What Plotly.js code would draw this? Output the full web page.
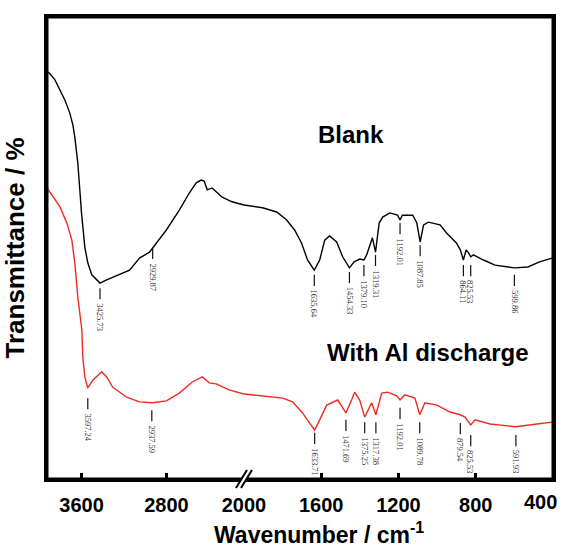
<!DOCTYPE html>
<html><head><meta charset="utf-8">
<script src="https://cdn.plot.ly/plotly-3.0.1.min.js"></script>
<style>html,body{margin:0;padding:0;background:#fff}</style>
</head><body><div id="chart" style="width:561px;height:547px"></div>
<script>
// Blank spectrum (wavenumber cm-1, transmittance arbitrary %)
const blankWavenumber = [3916,3897,3850,3803,3756,3710,3681,3663,3635,3616,3600,3569,3541,3503,3457,3426,3363,3241,3147,3054,2960,2930,2801,2679,2585,2520,2473,2445,2416,2370,2276,2182,2089,2070,
  2000,1904,1831,1780,1738,1702,1671,1636,1608,1582,1557,1520,1489,1454,1430,1400,1379,1365,1335,1319,1300,1282,1245,1205,1192,1180,1126,1105,1088,1070,1045,985,950,900,880,864,850,838,826,812,760,700,600,530,470,405];
const blankT = [88.1,87.7,86.4,84.2,82.0,79.2,76.6,74.0,68.4,62.6,57.6,50.2,46.8,44.2,43.1,42.4,43.1,44.2,45.2,47.8,49.1,50.0,53.9,58.2,61.9,64.1,64.7,64.5,62.6,63.0,61.0,60.0,59.3,59.3,
  59.3,58.7,57.8,56.1,53.9,51.1,47.4,45.2,47.4,51.7,52.6,51.3,48.1,45.7,47.0,47.6,47.4,48.5,52.2,49.1,55.4,56.7,57.6,57.1,56.1,57.1,57.1,55.4,51.3,55.0,55.6,55.0,53.2,51.1,49.6,47.4,49.6,49.0,48.1,48.5,47.4,46.3,45.7,45.9,47.0,47.8];
// With Al discharge spectrum
const alWavenumber = [3925,3897,3803,3738,3691,3663,3635,3597,3588,3569,3541,3494,3410,3363,3307,3176,3054,2932,2801,2679,2557,2463,2398,2332,2211,2070,
  2000,1920,1800,1748,1697,1660,1634,1608,1572,1515,1489,1472,1443,1427,1401,1375,1339,1317,1287,1256,1209,1192,1167,1115,1090,1063,1001,933,880,856,826,804,726,592,483,405];
const alT = [63.0,62.1,58.9,55.4,51.7,46.8,39.4,32.3,26.4,22.1,19.7,21.4,23.2,22.1,19.9,17.7,16.7,16.5,16.9,18.6,21.0,22.1,20.8,20.6,19.3,18.4,
  18.4,18.0,17.5,16.7,14.3,12.1,10.6,12.8,16.0,17.1,15.4,14.3,17.1,18.8,17.1,13.4,16.5,13.9,18.6,18.8,18.0,17.1,18.2,17.5,13.9,16.5,16.0,14.5,13.9,13.4,11.7,12.8,11.9,11.3,11.9,12.3];

// Peak labels
const blankPeakPos = [3426,2930,1636,1454,1379,1319,1192,1088,864,826,600];
const blankPeakText = ['3425.73','2929.87','1635.64','1454.33','1379.10','1319.31','1192.01','1087.85','864.11','825.53','599.86'];
const blankPeakMarkTop = [41.3,50.0,44.2,44.8,46.3,48.5,55.4,50.6,46.3,46.3,44.2];
const alPeakPos = [3541,2938,1634,1472,1375,1317,1192,1090,880,826,592];
const alPeakText = ['3597.24','2937.59','1633.71','1471.69','1375.25','1317.38','1192.01','1089.78','879.54','825.53','591.93'];
const alPeakMarkTop = [17.5,14.9,10.0,12.8,12.3,12.3,15.4,12.3,12.1,9.5,9.5];

const seriesNames = ['Blank','With Al discharge'];
const highTicks = [3600,2800];
const lowTicks = [2000,1600,1200,800];
const lowTickText = ['2000','1600','1200','800'];

const BREAK_HI = 2070, BREAK_LO = 2000;
const MARK_LEN = 2.4;

function split(ws, ts, high){
  const x=[], y=[];
  ws.forEach((w,i)=>{ if(high ? w>=BREAK_HI : w<=BREAK_LO){ x.push(w); y.push(ts[i]); } });
  return {x,y};
}
const traces = [];
[[blankWavenumber,blankT,'#000000'],[alWavenumber,alT,'#ee2a24']].forEach(([ws,ts,c],k)=>{
  [true,false].forEach(high=>{
    const d = split(ws,ts,high);
    traces.push({type:'scatter',mode:'lines',x:d.x,y:d.y,xaxis: high?'x':'x2',yaxis: high?'y':'y2',
      name:seriesNames[k],showlegend:false,line:{color:c,width:1.4},hoverinfo:'skip'});
  });
});
const annotations = [];
[[blankPeakPos,blankPeakText,blankPeakMarkTop],[alPeakPos,alPeakText,alPeakMarkTop]].forEach(([ps,tx,tops])=>{
  [true,false].forEach(high=>{
    const x=[],y=[];
    ps.forEach((p,i)=>{ if((p>BREAK_LO)===high){ x.push(p,p,null); y.push(tops[i],tops[i]-MARK_LEN,null); } });
    traces.push({type:'scatter',mode:'lines',x,y,xaxis: high?'x':'x2',yaxis: high?'y':'y2',showlegend:false,
      line:{color:'#111',width:1.2},hoverinfo:'skip'});
  });
  ps.forEach((p,i)=>{
    const hi = p>BREAK_LO;
    annotations.push({x:p,y:tops[i]-MARK_LEN,xref:hi?'x':'x2',yref:hi?'y':'y2',text:tx[i],showarrow:false,
      textangle:90,xanchor:'center',yanchor:'top',yshift:-2,font:{family:'Liberation Serif, Times New Roman, serif',size:8.5,color:'#333'}});
  });
});
const bold = {family:'Liberation Sans, Arial, sans-serif',weight:'bold',color:'#000'};
annotations.push({x:0.6,y:0.745,xref:'paper',yref:'paper',xanchor:'center',yanchor:'middle',text:'Blank',showarrow:false,font:Object.assign({size:24},bold)});
annotations.push({x:0.753,y:0.273,xref:'paper',yref:'paper',xanchor:'center',yanchor:'middle',text:'With Al discharge',showarrow:false,font:Object.assign({size:24},bold)});
annotations.push({x:400,y:0,xref:'x2',yref:'paper',text:'400',showarrow:false,xanchor:'right',yanchor:'top',xshift:6,yshift:-10,font:Object.assign({size:20},bold)});
annotations.push({x:0.5375,y:0,xref:'paper',yref:'paper',text:'Wavenumber / cm<sup>-1</sup>',showarrow:false,xanchor:'center',yanchor:'top',yshift:-37,font:Object.assign({size:23},bold)});

const axisCommon = {showgrid:false,zeroline:false,showline:true,linecolor:'black',linewidth:3,mirror:true,
  ticks:'inside',ticklen:6,tickwidth:3,tickcolor:'black',
  tickfont:Object.assign({size:20},bold),ticklabelstandoff:6};
const D = 0.3893;
const layout = {
  width:561,height:547,margin:{l:47,r:8,t:17,b:68},paper_bgcolor:'white',plot_bgcolor:'white',showlegend:false,
  xaxis:Object.assign({domain:[0,D],range:[3925,BREAK_HI],tickvals:highTicks,anchor:'y'},axisCommon),
  xaxis2:Object.assign({domain:[D,1],range:[BREAK_LO,400],tickvals:lowTicks,ticktext:lowTickText,anchor:'y2'},axisCommon),
  yaxis:{range:[0,100],anchor:'x',showgrid:false,zeroline:false,showline:true,linecolor:'black',linewidth:3,ticks:'',showticklabels:false,
    title:{text:'Transmittance / %',standoff:12,font:Object.assign({size:26},bold)}},
  yaxis2:{range:[0,100],anchor:'x2',side:'right',showgrid:false,zeroline:false,showline:true,linecolor:'black',linewidth:3,ticks:'',showticklabels:false},
  annotations,
  shapes:[
    {type:'rect',xref:'paper',yref:'paper',x0:0,x1:1,y0:0,y1:1,line:{color:'black',width:3},layer:'above'},
    {type:'rect',xref:'paper',yref:'paper',xsizemode:'pixel',ysizemode:'pixel',xanchor:D,yanchor:0,x0:-3,x1:3,y0:1.5,y1:8,line:{width:0},fillcolor:'white',layer:'above'},
    {type:'path',xref:'paper',yref:'paper',xsizemode:'pixel',ysizemode:'pixel',xanchor:D,yanchor:0,path:'M -8 -9 L 3 9 L 8 9 L -3 -9 Z',line:{width:0},fillcolor:'white',layer:'above'},
    {type:'line',xref:'paper',yref:'paper',xsizemode:'pixel',ysizemode:'pixel',xanchor:D,yanchor:0,x0:-8,y0:-9,x1:3,y1:9,line:{color:'black',width:2},layer:'above'},
    {type:'line',xref:'paper',yref:'paper',xsizemode:'pixel',ysizemode:'pixel',xanchor:D,yanchor:0,x0:-3,y0:-9,x1:8,y1:9,line:{color:'black',width:2},layer:'above'}
  ]
};
Plotly.newPlot('chart',traces,layout,{displayModeBar:false,staticPlot:true});
</script></body></html>
